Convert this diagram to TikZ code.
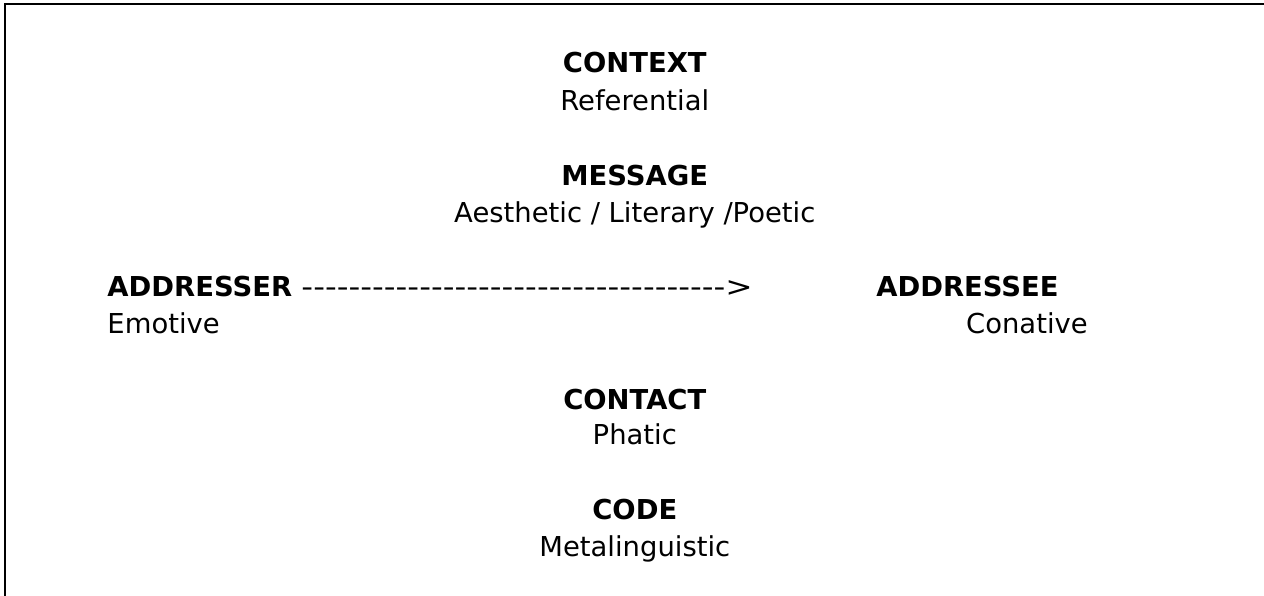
\documentclass[tikz,border=0pt]{standalone}
\usepackage{fontspec}
\setmainfont{DejaVu Sans}[Ligatures=TeXOff]
\usepackage{graphicx}
\usepackage{xcolor}
\usepackage{tikz}

\begin{document}
\begin{tikzpicture}[x=1cm,y=1cm,
  every node/.style={inner sep=0pt,font=\fontsize{19.5}{23}\selectfont},
  fnhead/.style={anchor=base,font=\fontsize{19.5}{23}\selectfont\bfseries},
  fnname/.style={anchor=base}]
\path[use as bounding box] (0,0) rectangle (31.60,14.90);
\draw[line width=1.4pt] (0.13,0) -- (0.13,14.80) -- (31.60,14.80);
\node[fnhead] (ctx) at (15.87,13.08) {CONTEXT};
\node[fnname] (ctxfn) at (15.87,12.13) {Referential};
\node[fnhead] (msg) at (15.87,10.25) {MESSAGE};
\node[fnname] (msgfn) at (15.87,9.33) {Aesthetic / Literary /Poetic};
\node[fnhead,anchor=base west] (sender) at (2.68,7.48) {ADDRESSER};
\node[fnname,anchor=base west] (arrowtxt) at (7.53,7.48) {\scalebox{1.19}[1]{------------------------------------>}};
\node[fnhead,anchor=base west] (receiver) at (21.90,7.48) {ADDRESSEE};
\node[fnname,anchor=base west] (senderfn) at (2.68,6.55) {Emotive};
\node[fnname,anchor=base east] (receiverfn) at (27.20,6.55) {Conative};
\node[fnhead] (contact) at (15.87,4.65) {CONTACT};
\node[fnname] (contactfn) at (15.87,3.78) {Phatic};
\node[fnhead] (code) at (15.87,1.90) {CODE};
\node[fnname] (codefn) at (15.87,0.98) {Metalinguistic};
\end{tikzpicture}
\end{document}
